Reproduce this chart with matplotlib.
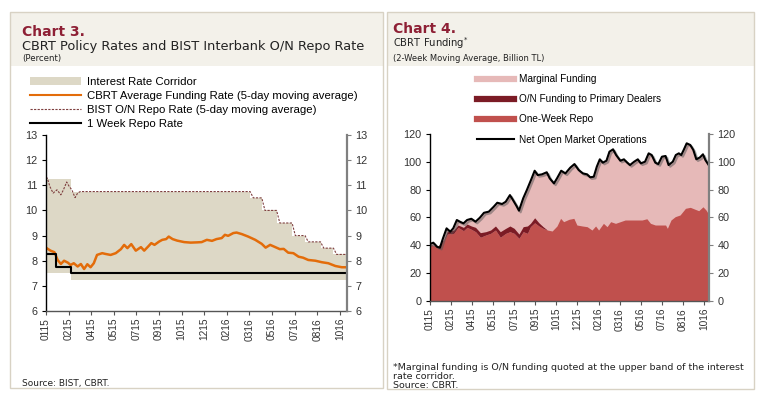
import matplotlib
matplotlib.use("Agg")
import matplotlib.pyplot as plt
import matplotlib.patheffects as pe
from matplotlib.patches import Patch, Rectangle
from matplotlib.lines import Line2D

# --- Chart 3 data (x = business-day index, one tick every 35 obs) ---
tick_labels = ["0115", "0215", "0415", "0515", "0715", "0915", "1015",
               "1215", "0216", "0316", "0516", "0716", "0816", "1016"]

corridor_x = [0, 39, 316, 334, 357, 381, 401, 425, 445, 466]
corridor_hi = [11.25, 10.75, 10.5, 10.0, 9.5, 9.0, 8.75, 8.5, 8.25, 8.25]
corridor_lo = [7.5, 7.25, 7.25, 7.25, 7.25, 7.25, 7.25, 7.25, 7.25, 7.25]

repo_rate_x = [0, 15, 38, 466]
repo_rate = [8.25, 7.75, 7.5, 7.5]

funding_x = [0, 1, 7, 13, 18, 23, 28, 34, 38, 43, 49, 54, 59, 64, 69, 74, 79, 87, 92, 100,
             108, 116, 121, 126, 132, 139, 147, 152, 158, 163, 168, 175, 180, 186, 190, 196,
             203, 214, 224, 234, 241, 249, 257, 264, 272, 277, 282, 290, 295, 303, 313, 324,
             334, 340, 347, 355, 362, 368, 375, 383, 391, 398, 406, 417, 427, 437, 448, 458, 466]
funding = [8.52, 8.50, 8.40, 8.34, 8.03, 7.87, 8.00, 7.92, 7.83, 7.90, 7.77, 7.87, 7.67, 7.86,
           7.74, 7.90, 8.23, 8.30, 8.27, 8.23, 8.30, 8.46, 8.63, 8.50, 8.66, 8.40, 8.54, 8.40,
           8.56, 8.70, 8.63, 8.76, 8.83, 8.86, 8.96, 8.86, 8.80, 8.74, 8.72, 8.73, 8.74, 8.83,
           8.79, 8.86, 8.90, 9.03, 8.99, 9.10, 9.12, 9.06, 8.96, 8.83, 8.67, 8.52, 8.63, 8.54,
           8.46, 8.47, 8.32, 8.30, 8.16, 8.12, 8.03, 8.00, 7.94, 7.90, 7.79, 7.74, 7.74]

bist_x = [0, 2, 6, 11, 17, 23, 27, 32, 36, 40, 45, 49, 53, 316, 321, 334, 339, 357, 362,
          381, 386, 401, 406, 425, 430, 445, 450, 466]
bist = [11.25, 11.29, 10.95, 10.69, 10.82, 10.62, 10.82, 11.13, 10.95, 10.82, 10.51, 10.69,
        10.75, 10.75, 10.5, 10.5, 10.0, 10.0, 9.5, 9.5, 9.0, 9.0, 8.75, 8.75, 8.5, 8.5,
        8.25, 8.25]

# --- Chart 4 data (billion TL) ---
nomo_x = [0, 6, 12, 17, 22, 28, 34, 39, 45, 50, 56, 62, 69, 76, 83, 90, 98, 106, 112, 120,
          126, 133, 138, 144, 148, 155, 161, 169, 174, 179, 186, 194, 199, 206, 211, 218, 225,
          233, 240, 247, 254, 261, 266, 272, 277, 282, 287, 293, 298, 304, 309, 316, 322, 327,
          332, 339, 345, 350, 357, 363, 368, 374, 379, 385, 391, 396, 403, 408, 413, 417, 421,
          426, 432, 437, 442, 448, 453, 457, 462]
nomo = [40.9, 41.9, 39.0, 38.3, 45.0, 52.2, 49.8, 52.2, 58.2, 57.0, 55.8, 58.2, 59.1, 57.0,
        59.8, 63.4, 64.2, 67.7, 70.6, 69.7, 71.3, 76.1, 72.6, 68.2, 64.9, 73.8, 79.7, 88.1,
        93.6, 90.5, 91.0, 92.5, 88.1, 84.5, 88.1, 93.6, 91.7, 95.8, 98.4, 94.1, 91.7, 91.0,
        88.9, 89.3, 96.5, 101.8, 99.4, 100.8, 107.3, 109.0, 104.9, 100.8, 101.8, 99.6, 97.7,
        100.1, 101.8, 98.9, 100.1, 106.1, 104.9, 99.4, 98.4, 103.7, 104.2, 97.7, 100.1, 104.9,
        106.1, 104.9, 108.5, 113.3, 112.1, 108.5, 101.8, 103.2, 105.4, 101.3, 98.0]

week_x = [0, 13, 23, 29, 40, 47, 56, 62, 69, 76, 84, 93, 101, 109, 117, 126, 133, 140, 148,
          155, 162, 167, 174, 181, 188, 195, 203, 211, 217, 222, 231, 239, 244, 253, 261, 269,
          275, 280, 288, 294, 300, 308, 316, 324, 333, 344, 352, 360, 366, 374, 382, 391, 394,
          400, 407, 415, 424, 432, 440, 446, 453, 458, 463]
week_repo = [40.2, 38.8, 43.3, 48.1, 48.6, 52.9, 50.5, 52.9, 51.5, 49.8, 45.8, 47.4, 48.6,
             51.0, 45.8, 48.6, 49.8, 48.6, 45.0, 49.8, 48.6, 53.4, 56.2, 53.9, 52.2, 51.0,
             50.3, 53.9, 59.4, 57.0, 58.7, 59.4, 54.6, 53.9, 53.4, 51.0, 53.9, 51.0, 55.8,
             53.4, 57.0, 55.8, 57.0, 58.2, 58.2, 58.2, 58.2, 59.1, 55.8, 54.6, 54.6, 54.6,
             52.2, 58.2, 60.6, 61.8, 66.6, 67.3, 65.9, 64.9, 67.7, 65.4, 62.0]
pd_funding = [0.5, 0.3, 0.5, 1.7, 2.4, 1.7, 2.4, 2.4, 2.4, 3.1, 3.3, 2.4, 2.4, 2.9, 4.0, 3.6,
              4.1, 3.6, 3.1, 3.6, 5.3, 2.4, 3.6, 2.3, 1.2, 0.0, 0.0, 0.0, 0.0, 0.0, 0.0, 0.0,
              0.0, 0.0, 0.0, 0.0, 0.0, 0.0, 0.0, 0.0, 0.0, 0.0, 0.0, 0.0, 0.0, 0.0, 0.0, 0.0,
              0.0, 0.0, 0.0, 0.0, 0.0, 0.0, 0.0, 0.0, 0.0, 0.0, 0.0, 0.0, 0.0, 0.0, 0.0]

W, H = 767, 397
TITLE_RED = "#8E2035"
BAND = "#F3F1EA"
FRAME = "#D8D2C4"
TICK_COL = "#333333"
C_CORR = "#DDD8C6"
C_ORANGE = "#E36C0A"
C_BIST = "#7F3F3F"
C_PINK = "#E6B9B8"
C_RED = "#C0504D"
C_DARK = "#7B1B25"


def fx(x):
    return x / W


def fy(y):
    return 1 - y / H


fig = plt.figure(figsize=(W / 100, H / 100), dpi=100)
fig.patch.set_facecolor("white")

# panel frames and header bands
for x0, x1, y1 in [(10, 383, 388), (387, 754, 389)]:
    fig.patches.append(Rectangle((fx(x0), fy(66)), fx(x1 - x0), 54 / H,
                                 transform=fig.transFigure, facecolor=BAND, edgecolor="none"))
    fig.patches.append(Rectangle((fx(x0), fy(y1)), fx(x1 - x0), (y1 - 12) / H,
                                 transform=fig.transFigure, facecolor="none",
                                 edgecolor=FRAME, lw=1))

hfont = "DejaVu Sans"
fig.text(fx(22), fy(36), "Chart 3.", color=TITLE_RED, fontsize=10, fontweight="bold", family=hfont)
fig.text(fx(22), fy(50), "CBRT Policy Rates and BIST Interbank O/N Repo Rate",
         color="#222222", fontsize=9.3, family=hfont)
fig.text(fx(22), fy(61), "(Percent)", color="#222222", fontsize=6.2, family=hfont)

fig.text(fx(393), fy(33), "Chart 4.", color=TITLE_RED, fontsize=10, fontweight="bold", family=hfont)
fig.text(fx(393), fy(47), "CBRT Funding$^{*}$", color="#222222", fontsize=7.2, family=hfont)
fig.text(fx(393), fy(61), "(2-Week Moving Average, Billion TL)", color="#222222",
         fontsize=6.0, family=hfont)

fig.text(fx(22), fy(386), "Source: BIST, CBRT.", fontsize=6.5, color="#222222", family=hfont)
fig.text(fx(393), fy(370), "*Marginal funding is O/N funding quoted at the upper band of the interest",
         fontsize=6.8, color="#222222", family=hfont)
fig.text(fx(393), fy(379), "rate corridor.", fontsize=6.8, color="#222222", family=hfont)
fig.text(fx(393), fy(388), "Source: CBRT.", fontsize=6.8, color="#222222", family=hfont)

tick_pos = [35 * i for i in range(len(tick_labels))]


def style_axes(ax, ax2):
    for s in ["top"]:
        ax.spines[s].set_visible(False)
        ax2.spines[s].set_visible(False)
    ax.spines["right"].set_visible(False)
    ax2.spines["left"].set_visible(False)
    ax2.spines["bottom"].set_visible(False)
    ax.spines["left"].set_color("#000000")
    ax.spines["left"].set_linewidth(1.0)
    ax.spines["bottom"].set_color("#555555")
    ax.spines["bottom"].set_linewidth(1.0)
    ax2.spines["right"].set_color("#808080")
    ax2.spines["right"].set_linewidth(1.6)
    ax.set_xticks(tick_pos)
    ax.set_xticklabels(tick_labels, rotation=90, family="Liberation Sans", fontsize=7.3, color=TICK_COL)
    ax.tick_params(axis="x", direction="out", length=3, color="#555555", pad=2)
    ax.tick_params(axis="y", direction="out", length=3, color="#000000", labelsize=7.8,
                   labelcolor=TICK_COL, pad=3)
    ax2.tick_params(axis="y", direction="out", length=3, color="#808080", labelsize=7.8,
                    labelcolor=TICK_COL, pad=3)
    for lab in ax.get_yticklabels() + ax2.get_yticklabels():
        lab.set_family("Liberation Sans")


# ---------------- Chart 3 ----------------
ax = fig.add_axes([fx(46), fy(311), fx(347 - 46), (311 - 135) / H])
ax.fill_between(corridor_x, corridor_lo, corridor_hi, step="post", color=C_CORR, lw=0)
ax.plot(bist_x, bist, color=C_BIST, lw=0.8, ls=(0, (2, 1.2)))
ax.plot(funding_x, funding, color=C_ORANGE, lw=1.8)
ax.plot(repo_rate_x, repo_rate, color="black", lw=1.5, drawstyle="steps-post")
ax.set_xlim(0, 466)
ax.set_ylim(6, 13)
ax.set_yticks(range(6, 14))
ax2 = ax.twinx()
ax2.set_ylim(6, 13)
ax2.set_yticks(range(6, 14))
style_axes(ax, ax2)

leg1 = [Patch(facecolor=C_CORR, edgecolor="none"),
        Line2D([], [], color=C_ORANGE, lw=1.5),
        Line2D([], [], color=C_BIST, lw=0.8, ls=(0, (2, 1.2))),
        Line2D([], [], color="black", lw=1.5)]
fig.legend(leg1, ["Interest Rate Corridor", "CBRT Average Funding Rate (5-day moving average)",
                  "BIST O/N Repo Rate (5-day moving average)", "1 Week Repo Rate"],
           loc="upper left", bbox_to_anchor=(fx(30), fy(77)), frameon=False,
           prop={"family": "Liberation Sans", "size": 8.2}, handlelength=4.5,
           handleheight=0.7, handletextpad=0.5, labelspacing=0.34, borderpad=0,
           borderaxespad=0)

# ---------------- Chart 4 ----------------
bx = fig.add_axes([fx(429.7), fy(301), fx(709 - 429.7), (301 - 134) / H])
bx.fill_between(nomo_x, 0, nomo, color=C_PINK, lw=0)
bx.fill_between(week_x, 0, week_repo, color=C_RED, lw=0)
top = [a + b for a, b in zip(week_repo, pd_funding)]
bx.fill_between(week_x, week_repo, top, color=C_DARK, lw=0)
bx.plot(nomo_x, nomo, color="black", lw=1.5,
        path_effects=[pe.SimpleLineShadow(offset=(1.2, -1.2), shadow_color="#555555", alpha=0.5),
                      pe.Normal()])
bx.set_xlim(0, 463)
bx.set_ylim(0, 120)
bx.set_yticks(range(0, 121, 20))
bx2 = bx.twinx()
bx2.set_ylim(0, 120)
bx2.set_yticks(range(0, 121, 20))
style_axes(bx, bx2)

leg2 = [Line2D([], [], color=C_PINK, lw=4.5),
        Line2D([], [], color=C_DARK, lw=4.5),
        Line2D([], [], color=C_RED, lw=4.5),
        Line2D([], [], color="black", lw=1.5)]
fig.legend(leg2, ["Marginal Funding", "O/N Funding to Primary Dealers", "One-Week Repo",
                  "Net Open Market Operations"],
           loc="upper left", bbox_to_anchor=(fx(477), fy(74)), frameon=False,
           prop={"family": "Liberation Sans", "size": 7.2}, handlelength=3.7,
           handletextpad=0.5, labelspacing=1.02, borderpad=0, borderaxespad=0)

fig.savefig("out.png", dpi=100, facecolor="white")
